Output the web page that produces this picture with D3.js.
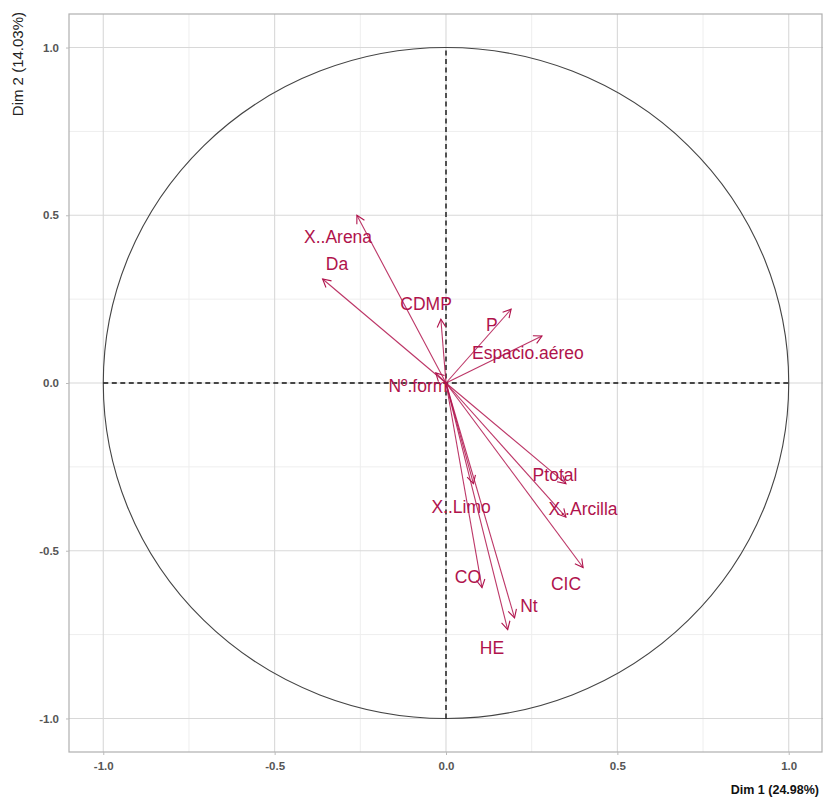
<!DOCTYPE html>
<html><head><meta charset="utf-8">
<script src="https://cdn.jsdelivr.net/npm/d3@7"></script>
<style>body{margin:0;background:#fff}svg{display:block}</style>
</head><body><svg id="c" width="823" height="799"></svg>
<script>
const variables = ["X..Arena","Da","CDMP","P","Espacio.aéreo","Nº.form","Ptotal","X..Arcilla","CIC","X..Limo","CO","HE","Nt"];
const dim1 = [-0.26,-0.36,-0.015,0.19,0.28,-0.03,0.35,0.35,0.40,0.08,0.105,0.18,0.20];
const dim2 = [0.50,0.31,0.19,0.22,0.14,0.03,-0.30,-0.40,-0.55,-0.30,-0.61,-0.735,-0.70];
const labelX = [-0.315,-0.318,-0.058,0.134,0.239,-0.082,0.318,0.40,0.35,0.044,0.064,0.134,0.242];
const labelY = [0.436,0.356,0.237,0.172,0.089,-0.009,-0.273,-0.374,-0.60,-0.368,-0.579,-0.789,-0.665];
const majorTicks = [-1.0,-0.5,0.0,0.5,1.0];
const minorTicks = [-0.75,-0.25,0.25,0.75];
const xTitle = "Dim 1 (24.98%)";
const yTitle = "Dim 2 (14.03%)";

const svg = d3.select("#c");
const x = d3.scaleLinear().domain([-1.1,1.1]).range([69,823]);
const y = d3.scaleLinear().domain([-1.1,1.1]).range([752,14]);
const col = "#B0134C";
const font = "Liberation Sans, Arial, sans-serif";

// grid
const g = svg.append("g");
g.selectAll(".mnx").data(minorTicks).join("line").attr("x1",d=>x(d)).attr("x2",d=>x(d)).attr("y1",y(-1.1)).attr("y2",y(1.1)).attr("stroke","#eeeeee").attr("stroke-width",1);
g.selectAll(".mny").data(minorTicks).join("line").attr("y1",d=>y(d)).attr("y2",d=>y(d)).attr("x1",x(-1.1)).attr("x2",x(1.1)).attr("stroke","#eeeeee").attr("stroke-width",1);
g.selectAll(".mjx").data(majorTicks).join("line").attr("x1",d=>x(d)).attr("x2",d=>x(d)).attr("y1",y(-1.1)).attr("y2",y(1.1)).attr("stroke","#d8d8d8").attr("stroke-width",1.1);
g.selectAll(".mjy").data(majorTicks).join("line").attr("y1",d=>y(d)).attr("y2",d=>y(d)).attr("x1",x(-1.1)).attr("x2",x(1.1)).attr("stroke","#d8d8d8").attr("stroke-width",1.1);
// panel border
svg.append("rect").attr("x",x(-1.1)).attr("y",y(1.1)).attr("width",x(1.1)-x(-1.1)-1).attr("height",y(-1.1)-y(1.1)).attr("fill","none").attr("stroke","#b0b0b0").attr("stroke-width",1.2);

// axes
const fmt = d => d3.format(".1f")(d).replace("−","-");
const xAxis = d3.axisBottom(x).tickValues(majorTicks).tickFormat(fmt).tickSize(3).tickPadding(7);
const yAxis = d3.axisLeft(y).tickValues(majorTicks).tickFormat(fmt).tickSize(3).tickPadding(7);
const xa = svg.append("g").attr("transform",`translate(0,${y(-1.1)})`).call(xAxis);
const ya = svg.append("g").attr("transform",`translate(${x(-1.1)},0)`).call(yAxis);
[xa,ya].forEach(a=>{
  a.select(".domain").remove();
  a.selectAll(".tick line").attr("stroke","#bbb");
  a.selectAll(".tick text").attr("fill","#555").attr("font-family",font).attr("font-size",11.5).attr("font-weight","bold");
});

// circle
svg.append("ellipse").attr("cx",x(0)).attr("cy",y(0)).attr("rx",x(1)-x(0)).attr("ry",y(0)-y(1)).attr("fill","none").attr("stroke","#444").attr("stroke-width",1.1);

// dashed zero lines
svg.append("line").attr("x1",x(-1)).attr("x2",x(1)).attr("y1",y(0)).attr("y2",y(0)).attr("stroke","#111").attr("stroke-width",1.4).attr("stroke-dasharray","5,3.5");
svg.append("line").attr("y1",y(-1)).attr("y2",y(1)).attr("x1",x(0)).attr("x2",x(0)).attr("stroke","#111").attr("stroke-width",1.4).attr("stroke-dasharray","5,3.5");

// arrow marker
svg.append("defs").append("marker").attr("id","ah").attr("viewBox","-10 -6 12 12").attr("refX",0).attr("refY",0)
  .attr("markerWidth",12).attr("markerHeight",12).attr("markerUnits","userSpaceOnUse").attr("orient","auto")
  .append("path").attr("d","M-8,-4.3L0,0L-8,4.3").attr("fill","none").attr("stroke",col).attr("stroke-width",1.1);

const data = variables.map((v,i)=>({v, d1:dim1[i], d2:dim2[i], lx:labelX[i], ly:labelY[i]}));
svg.append("g").selectAll("line").data(data).join("line")
  .attr("x1",x(0)).attr("y1",y(0)).attr("x2",d=>x(d.d1)).attr("y2",d=>y(d.d2))
  .attr("stroke",col).attr("stroke-opacity",0.85).attr("stroke-width",1.1).attr("marker-end","url(#ah)");
svg.append("g").selectAll("text").data(data).join("text")
  .attr("x",d=>x(d.lx)).attr("y",d=>y(d.ly)).attr("dy","0.35em").attr("text-anchor","middle")
  .attr("fill",col).attr("font-family",font).attr("font-size",17.5)
  .text(d=>d.v);

// titles
svg.append("text").attr("x",819).attr("y",794).attr("text-anchor","end").attr("font-family",font)
  .attr("font-size",12.5).attr("font-weight","bold").attr("fill","#111").text(xTitle);
svg.append("text").attr("transform","translate(23,12) rotate(-90)").attr("text-anchor","end").attr("font-family",font)
  .attr("font-size",15).attr("fill","#222").text(yTitle);
</script></body></html>
